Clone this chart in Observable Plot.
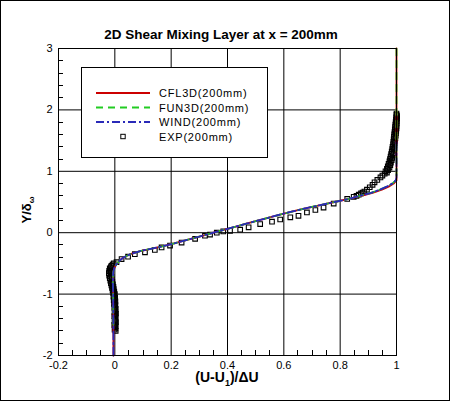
<!DOCTYPE html>
<html><head><meta charset="utf-8">
<script src="https://cdn.jsdelivr.net/npm/d3@7"></script>
<script src="https://cdn.jsdelivr.net/npm/@observablehq/plot@0.6"></script>
<style>body{margin:0;background:#fff}</style>
</head><body>
<script>
const title = "2D Shear Mixing Layer at x = 200mm";
const xMajor = [-0.2, 0, 0.2, 0.4, 0.6, 0.8, 1];
const yMajor = [-2, -1, 0, 1, 2, 3];
const seriesNames = ["CFL3D(200mm)", "FUN3D(200mm)", "WIND(200mm)", "EXP(200mm)"];

const curveY = [-2, -1.5, -1.0, -0.8, -0.65, -0.58, -0.54, -0.5, -0.45, -0.4, -0.35, -0.3, -0.25, -0.2, -0.15, -0.1, -0.05, 0, 0.05, 0.1, 0.15, 0.2, 0.25, 0.3, 0.35, 0.4, 0.45, 0.5, 0.55, 0.6, 0.65, 0.7, 0.75, 0.8, 0.85, 0.9, 1.0, 1.5, 2.0, 3.0];
const cfl3dX = [-0.005, -0.005, -0.006, -0.007, -0.006, -0.002, 0.002, 0.008, 0.018, 0.032, 0.055, 0.09, 0.14, 0.19, 0.23, 0.27, 0.31, 0.35, 0.39, 0.43, 0.47, 0.51, 0.55, 0.59, 0.635, 0.68, 0.73, 0.78, 0.83, 0.875, 0.915, 0.948, 0.972, 0.99, 1.0, 1.0, 1.0, 1.0, 1.0, 1.0];
const fun3dX = [null, -0.005, -0.006, -0.007, -0.006, -0.002, 0.002, 0.008, 0.018, 0.032, 0.055, 0.09, 0.14, 0.19, 0.23, 0.27, 0.31, 0.35, 0.39, 0.43, 0.47, 0.51, 0.55, 0.59, 0.635, 0.68, 0.73, 0.78, 0.83, 0.87, 0.91, 0.94, 0.965, 0.985, 0.997, 1.0, 1.0, 1.0, 1.0, 1.0];
const windX = [-0.005, -0.005, -0.006, -0.007, -0.006, -0.002, 0.002, 0.008, 0.018, 0.032, 0.055, 0.09, 0.14, 0.19, 0.23, 0.27, 0.31, 0.35, 0.39, 0.43, 0.47, 0.51, 0.55, 0.59, 0.635, 0.68, 0.73, 0.78, 0.83, 0.87, 0.91, 0.94, 0.965, 0.985, 0.997, 1.0, 1.0, 1.0, null, null];

const expY = [
 -1.6,-1.58,-1.56,-1.54,-1.52,-1.5,-1.48,-1.46,-1.44,-1.42,-1.4,-1.38,-1.36,-1.34,-1.32,-1.3,-1.28,-1.26,-1.24,-1.22,-1.2,-1.18,-1.16,-1.14,-1.12,-1.1,-1.08,-1.06,-1.04,-1.02,-1.0,
 -0.98,-0.96,-0.94,-0.92,-0.9,-0.88,-0.86,-0.84,-0.82,-0.8,-0.78,-0.76,-0.74,-0.72,-0.7,-0.68,-0.66,-0.64,-0.62,-0.6,-0.58,-0.56,-0.54,-0.52,-0.5,
 -0.48,-0.43,-0.39,-0.35,-0.32,-0.28,-0.24,-0.21,-0.16,-0.1,-0.05,-0.03,0.0,0.02,0.03,0.05,0.087,0.14,0.18,0.215,0.25,0.275,0.33,0.37,0.41,0.475,0.55,0.585,0.6,0.62,0.64,0.655,0.67,
 0.7,0.74,0.78,0.82,0.86,0.9,0.93,
 0.96,0.98,1.0,1.02,1.04,1.06,1.08,1.1,1.12,1.14,1.16,1.18,1.2,1.22,1.24,1.26,1.28,1.3,1.32,1.34,1.36,1.38,1.4,1.42,1.44,1.46,1.48,1.5,1.52,1.54,1.56,1.58,1.6,1.62,1.64,1.66,1.68,1.7,1.72,1.74,1.76,1.78,1.8,1.82,1.84,1.86,1.88,1.9,1.92,1.94];
const expX = [
 0.003,-0.001,0.002,0.0,0.003,-0.002,0.001,0.004,-0.001,0.002,0.0,0.003,-0.002,0.001,0.004,-0.001,0.002,0.0,0.003,-0.002,0.001,0.002,-0.003,0.0,0.002,-0.004,-0.001,0.001,-0.005,-0.002,0.0,
 -0.006,-0.002,-0.008,-0.004,-0.01,-0.005,-0.012,-0.007,-0.014,-0.009,-0.016,-0.011,-0.018,-0.012,-0.02,-0.014,-0.021,-0.015,-0.02,-0.016,-0.018,-0.014,-0.012,-0.008,-0.004,
 0.006,0.024,0.047,0.071,0.107,0.142,0.166,0.196,0.237,0.285,0.32,0.338,0.362,0.385,0.409,0.445,0.475,0.516,0.558,0.587,0.623,0.652,0.682,0.712,0.741,0.777,0.825,0.848,0.858,0.866,0.874,0.88,0.886,
 0.895,0.905,0.915,0.922,0.932,0.943,0.95,
 0.958,0.966,0.961,0.97,0.966,0.975,0.969,0.978,0.972,0.98,0.975,0.983,0.977,0.985,0.979,0.987,0.981,0.989,0.983,0.99,0.985,0.992,0.986,0.993,0.988,0.994,0.989,0.995,0.99,0.996,0.991,0.997,0.992,0.998,0.993,0.999,0.994,1.0,0.995,1.0,0.996,1.001,0.997,1.001,0.998,1.002,0.999,1.002,1.0,1.0];

const xMinor = [-0.15,-0.1,-0.05,0.05,0.1,0.15,0.25,0.3,0.35,0.45,0.5,0.55,0.65,0.7,0.75,0.85,0.9,0.95];
const yMinor = [-1.8,-1.6,-1.4,-1.2,-0.8,-0.6,-0.4,-0.2,0.2,0.4,0.6,0.8,1.2,1.4,1.6,1.8,2.2,2.4,2.6,2.8];

const colors = ["#cc0000", "#22cc22", "#2a2ab8"];
const dashes = [null, "7,5", "8,3,2,3"];

const curves = [cfl3dX, fun3dX, windX].map((xs, i) =>
  curveY.map((y, j) => ({x: xs[j], y})).filter(d => d.x != null));
const exp = expY.map((y, i) => ({x: expX[i], y}));

const fmt = d => String(d);
const font = "'Liberation Sans', Arial, sans-serif";

const plot = Plot.plot({
  width: 450, height: 401,
  marginLeft: 58, marginRight: 54, marginTop: 48, marginBottom: 46,
  style: {fontFamily: font, fontSize: "11px", color: "#000", background: "#fff"},
  x: {domain: [-0.2, 1]},
  y: {domain: [-2, 3]},
  marks: [
    Plot.gridX(xMajor, {stroke: "#000", strokeOpacity: 1, strokeWidth: 1}),
    Plot.gridY(yMajor, {stroke: "#000", strokeOpacity: 1, strokeWidth: 1}),
    Plot.axisX(xMajor, {tickSize: 0, tickPadding: 6, tickFormat: fmt, label: null}),
    Plot.axisY(yMajor, {tickSize: 0, tickPadding: 6, tickFormat: fmt, label: null}),
    Plot.dot(exp, {x: "x", y: "y", symbol: "square", r: 2.6, stroke: "#000", strokeWidth: 1.1, fill: "none"}),
    ...curves.map((c, i) => Plot.line(c, {x: "x", y: "y", stroke: colors[i], strokeWidth: 1.8, strokeDasharray: dashes[i]})),
    Plot.frame({stroke: "#000", strokeWidth: 1})
  ]
});
document.body.appendChild(plot);

const svg = d3.select(plot);
const sx = plot.scale("x"), sy = plot.scale("y");
const x0 = sx.apply(-0.2), y0 = sy.apply(-2);
// minor ticks (inward), positioned by the plot's scales
const mt = svg.append("g").attr("stroke", "#000").attr("stroke-width", 1);
xMinor.forEach(v => {
  const px = Math.round(sx.apply(v)) + 0.5;
  mt.append("line").attr("x1", px).attr("x2", px).attr("y1", y0).attr("y2", y0 - 5);
});
yMinor.forEach(v => {
  const py = Math.round(sy.apply(v)) + 0.5;
  mt.append("line").attr("x1", x0).attr("x2", x0 + 5).attr("y1", py).attr("y2", py);
});
// outer border
svg.append("rect").attr("x", 0.5).attr("y", 0.5).attr("width", 449).attr("height", 400)
  .attr("fill", "none").attr("stroke", "#000");
// title
svg.append("text").attr("x", 221).attr("y", 39).attr("text-anchor", "middle")
  .attr("font-family", font).attr("font-size", 13.5).attr("font-weight", "bold")
  .text(title);
// x label
const xl = svg.append("text").attr("x", 227).attr("y", 382).attr("text-anchor", "middle")
  .attr("font-family", font).attr("font-size", 14).attr("font-weight", "bold");
xl.append("tspan").text("(U-U");
xl.append("tspan").attr("font-size", 9).attr("dy", 4).text("1");
xl.append("tspan").attr("dy", -4).text(")/ΔU");
// y label
const yl = svg.append("text").attr("transform", "translate(31,210) rotate(-90)").attr("text-anchor", "middle")
  .attr("font-family", font).attr("font-size", 13).attr("font-weight", "bold");
yl.append("tspan").text("Y/δ");
yl.append("tspan").attr("font-size", 8).attr("dy", 3).text("ω");

// legend
const lg = svg.append("g");
lg.append("rect").attr("x", 81.5).attr("y", 67.5).attr("width", 186).attr("height", 90)
  .attr("fill", "#fff").attr("stroke", "#000");
const rowsY = [93, 107.5, 122, 136.5];
seriesNames.forEach((name, i) => {
  if (i < 3) {
    lg.append("line").attr("x1", 96).attr("x2", 150).attr("y1", rowsY[i]).attr("y2", rowsY[i])
      .attr("stroke", colors[i]).attr("stroke-width", 1.8).attr("stroke-dasharray", dashes[i]);
  } else {
    lg.append("rect").attr("x", 120.8).attr("y", rowsY[i] - 2.2).attr("width", 4.4).attr("height", 4.4)
      .attr("fill", "none").attr("stroke", "#000");
  }
  lg.append("text").attr("x", 159).attr("y", rowsY[i] + 4).attr("text-anchor", "start")
    .attr("font-family", font).attr("font-size", 11).attr("letter-spacing", 0.8).text(name);
});
</script>
</body></html>
